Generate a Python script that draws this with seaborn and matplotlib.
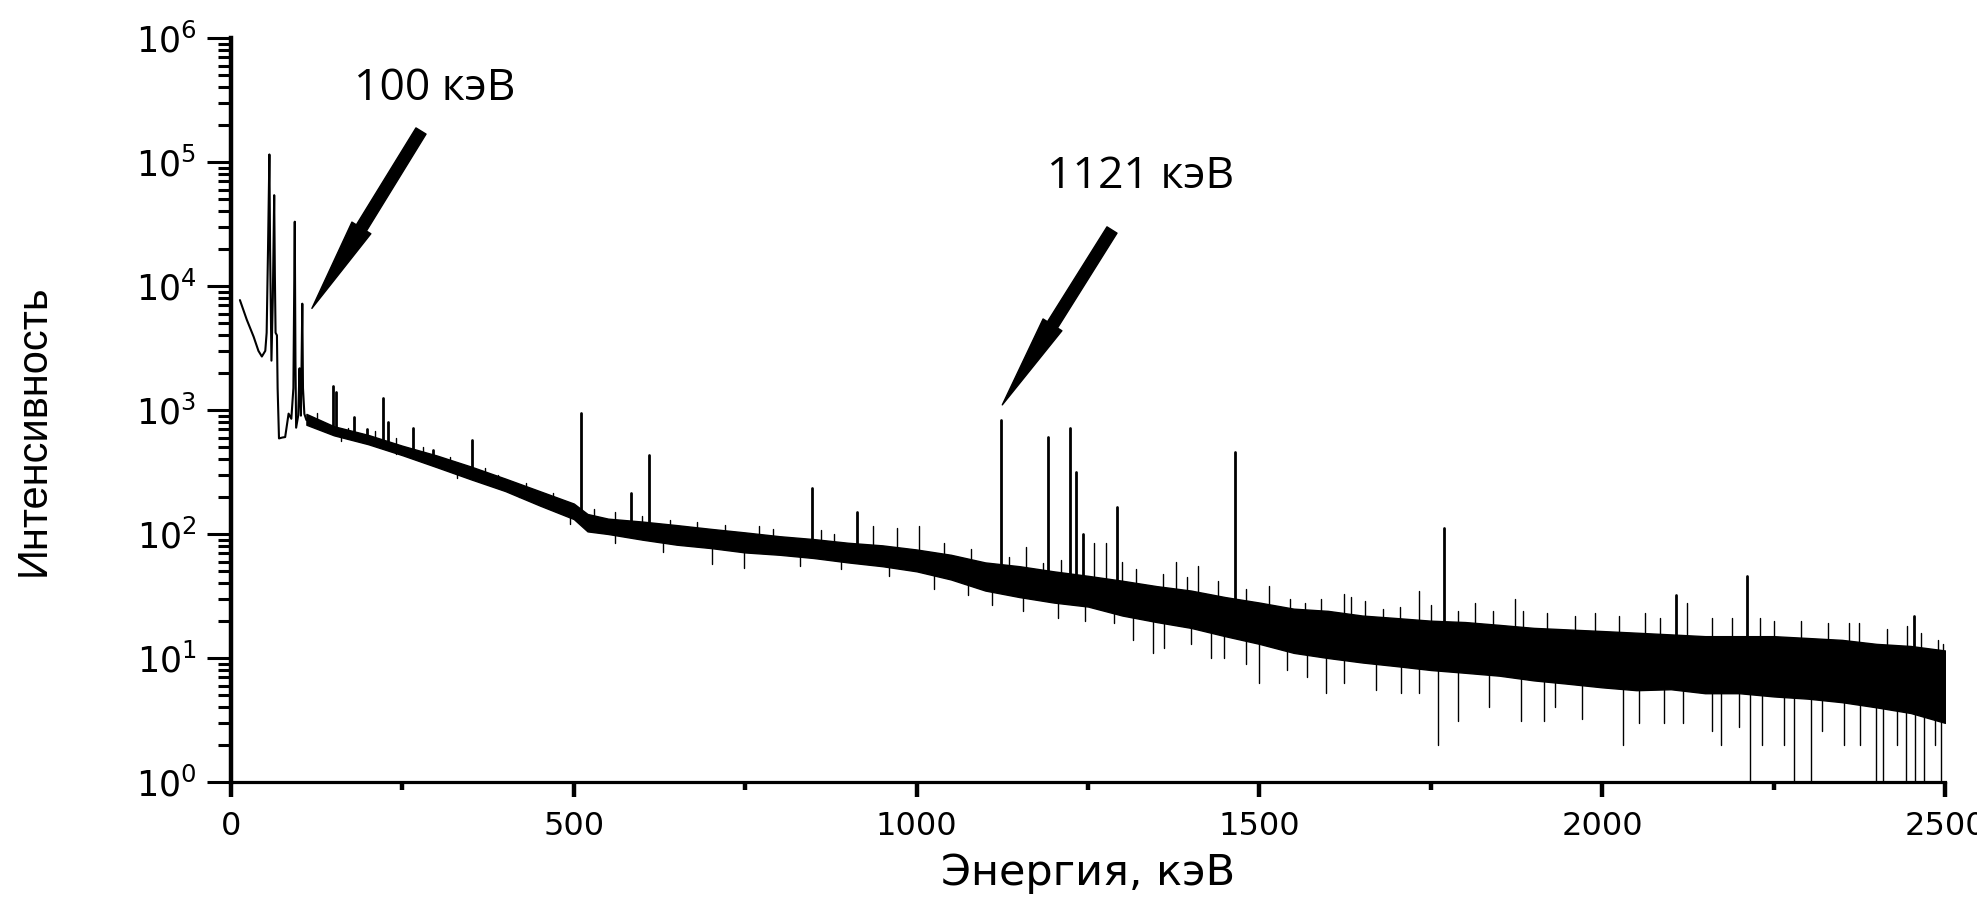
import numpy as np
import pandas as pd
import matplotlib
matplotlib.use("Agg")
import matplotlib.pyplot as plt
from matplotlib import font_manager
from matplotlib.ticker import LogLocator, MultipleLocator, NullFormatter
import seaborn as sns

# ---------------- data ----------------
# low-energy part of the spectrum (keV, counts)
low_energy = [13, 23, 33, 40, 45, 50, 52, 54, 56, 57, 59, 61, 63, 64, 65, 67, 68, 70,
              75, 79, 84, 88, 91, 93, 94, 95, 98, 100, 101, 102, 104, 105, 107, 110]
low_counts = [7700, 5350, 3900, 3000, 2700, 3000, 4200, 20000, 115000, 20000, 2500, 8000,
              54000, 12000, 4200, 4000, 1500, 590, 600, 605, 935, 850, 1500, 33000, 2500,
              720, 900, 2170, 1200, 900, 7200, 1500, 930, 830]

# dense noisy continuum: upper and lower edge of the black band
band_energy = [110, 150, 200, 250, 300, 350, 400, 450, 500, 520, 550, 600, 650, 700, 750,
               800, 850, 900, 950, 1000, 1050, 1100, 1150, 1200, 1250, 1300, 1350, 1400,
               1450, 1500, 1550, 1600, 1650, 1700, 1750, 1800, 1850, 1900, 1950, 2000,
               2050, 2100, 2150, 2200, 2250, 2300, 2350, 2400, 2450, 2500]
band_upper = [930, 740, 630, 515, 430, 350, 280, 222, 176, 145, 133, 126, 118, 110, 103,
              96, 91, 85, 81, 75, 68, 59, 55, 50, 46, 42, 38, 35,
              31, 28, 25, 24, 22, 21, 20, 19.5, 18.5, 17.5, 17, 16.5,
              16, 15.5, 15, 15, 15, 14.5, 14, 13, 12.5, 11.5]
band_lower = [760, 625, 530, 432, 346, 276, 222, 170, 132, 105, 100, 90, 82, 77, 71,
              68, 64, 59, 55, 50, 43, 35, 31, 28, 26, 22, 19.5, 17.5,
              15, 13, 11, 10, 9.2, 8.6, 8.0, 7.6, 7.2, 6.6, 6.2, 5.8,
              5.5, 5.6, 5.2, 5.2, 4.9, 4.7, 4.4, 4.0, 3.6, 3.0]

# gamma lines (peak tops)
peak_energy = [149, 153, 180, 198, 222, 229, 265, 295, 332, 352, 444, 511, 583, 610, 848,
               913, 1123, 1191, 1224, 1233, 1242, 1292, 1464, 1769, 2108, 2211, 2455]
peak_counts = [1550, 1400, 885, 700, 1240, 800, 710, 475, 350, 575, 186, 940, 214, 436, 234,
               151, 830, 610, 710, 318, 100, 166, 460, 111, 32, 46, 22]

# small upward noise spikes
spike_energy = [125, 170, 210, 240, 280, 320, 370, 390, 430, 470,
                530, 560, 600, 640, 680, 720, 770, 790, 860, 880, 936, 972, 1004,
                1040, 1080, 1135, 1159, 1185, 1210, 1259, 1276, 1300, 1320, 1360, 1379,
                1395, 1411, 1440, 1480, 1514, 1545, 1566, 1590, 1624, 1634, 1654, 1680,
                1705, 1733, 1750, 1790, 1814, 1840, 1873, 1885, 1920, 1960, 1990, 2025,
                2062, 2085, 2123, 2160, 2190, 2230, 2250, 2290, 2330, 2360, 2375, 2415,
                2445, 2465, 2490, 2497]
spike_counts = [950, 720, 680, 600, 500, 420, 340, 300, 260, 215,
                160, 150, 140, 130, 125, 118, 117, 110, 107, 100, 115, 111, 117,
                85, 75, 65, 79, 58, 62, 85, 85, 60, 52, 48, 60,
                45, 55, 42, 36, 38, 30, 28, 30, 33, 31, 29, 25,
                26, 35, 27, 24, 28, 24, 30, 24, 23, 22, 23, 22,
                23, 21, 28, 21, 21, 21, 20, 20, 19, 19, 19, 17,
                18, 16, 14, 13]

# downward noise dips
dip_energy = [160, 240, 330, 420, 495, 560, 630, 702, 748, 830, 890, 960, 1025, 1075,
              1110, 1155, 1206, 1245, 1288, 1315, 1345, 1361, 1400, 1430, 1449, 1480,
              1500, 1540, 1570, 1597, 1624, 1670, 1707, 1733, 1760, 1790, 1835, 1881,
              1915, 1931, 1970, 2030, 2053, 2090, 2118, 2160, 2174, 2200, 2216, 2233,
              2265, 2280, 2305, 2320, 2352, 2376, 2399, 2410, 2430, 2443, 2456, 2470,
              2485, 2494]
dip_counts = [560, 440, 285, 200, 120, 85, 72, 57, 53, 55, 52, 46, 36, 32,
              27, 24, 21, 20, 19, 14, 11, 12, 13, 10, 10, 9,
              6.3, 8, 7, 5.2, 6.3, 5.5, 5.2, 5.2, 2, 3.1, 4, 3.1,
              3.1, 4, 3.2, 2, 3, 3, 3, 2.6, 2, 2.8, 1, 2,
              2, 1, 1, 2.6, 2, 2, 1, 1, 2, 1, 1, 1,
              2, 1]

annot_labels = ["100 кэВ", "1121 кэВ"]
x_ticks = [0, 500, 1000, 1500, 2000, 2500]
x_label = "Энергия, кэВ"
y_label = "Интенсивность"

# ---------------- styling ----------------
sns.set_theme(style="ticks")
plt.rcParams["font.family"] = ["DejaVu Sans"]
plt.rcParams["mathtext.fontset"] = "dejavusans"
for k in ["axes.edgecolor", "xtick.color", "ytick.color", "text.color", "axes.labelcolor"]:
    plt.rcParams[k] = "black"

installed = {f.name for f in font_manager.fontManager.ttflist}

W, H = 1977, 900
fig = plt.figure(figsize=(W / 100, H / 100), dpi=100)
fig.patch.set_facecolor("white")
ax = fig.add_axes([231 / W, 118 / H, 1714 / W, 744 / H])
ax.set_facecolor("white")
ax.set_yscale("log")
ax.set_xlim(0, 2500)
ax.set_ylim(1, 1e6)

# continuum band
ax.fill_between(band_energy, band_upper, band_lower, color="black", lw=1.0, zorder=2)

# low-energy curve
sns.lineplot(x=low_energy, y=low_counts, color="black", lw=1.5, estimator=None,
             sort=False, ax=ax, zorder=3)


def segments(elist, clist):
    assert len(elist) == len(clist)
    rows = []
    for i, (e, c) in enumerate(zip(elist, clist)):
        base = np.sqrt(np.interp(e, band_energy, band_upper) *
                       np.interp(e, band_energy, band_lower))
        rows.append((i, e, base))
        rows.append((i, e, c))
    return pd.DataFrame(rows, columns=["seg", "E", "I"])


noise = pd.concat([segments(spike_energy, spike_counts).assign(kind="up"),
                   segments(dip_energy, dip_counts).assign(kind="dn")])
noise["seg"] = noise["kind"] + noise["seg"].astype(str)
sns.lineplot(data=noise, x="E", y="I", units="seg", estimator=None, sort=False,
             color="black", lw=1.0, ax=ax, legend=False, zorder=3)

peaks = segments(peak_energy, peak_counts)
sns.lineplot(data=peaks, x="E", y="I", units="seg", estimator=None, sort=False,
             color="black", lw=2.0, ax=ax, legend=False, zorder=4)

# axes
ax.spines["top"].set_visible(False)
ax.spines["right"].set_visible(False)
ax.spines["left"].set_linewidth(3.2)
ax.spines["bottom"].set_linewidth(2.3)
ax.xaxis.set_minor_locator(MultipleLocator(250))
ax.set_xticks(x_ticks)
ax.set_xticklabels([str(t) for t in x_ticks])
ax.yaxis.set_major_locator(LogLocator(base=10, numticks=10))
ax.yaxis.set_minor_locator(LogLocator(base=10, subs=np.arange(2, 10), numticks=20))
ax.yaxis.set_minor_formatter(NullFormatter())
ax.tick_params(axis="y", which="major", direction="out", length=17, width=2.2, pad=8,
               labelsize=25)
ax.tick_params(axis="y", which="minor", direction="out", length=9.5, width=2.2)
ax.tick_params(axis="x", which="major", direction="out", length=11, width=3.2, pad=10,
               labelsize=23)
ax.tick_params(axis="x", which="minor", direction="out", length=6, width=3.2)
ax.grid(False)

ax.set_xlabel(x_label, fontsize=31, va="center")
ax.xaxis.set_label_coords(0.5, (782 - 873) / 744)

if "Liberation Sans Narrow" in installed:
    yfam, ysize = ["Liberation Sans Narrow", "DejaVu Sans"], 36
elif "Liberation Sans" in installed:
    yfam, ysize = ["Liberation Sans", "DejaVu Sans"], 30
else:
    yfam, ysize = ["DejaVu Sans"], 27
ax.set_ylabel(y_label, fontsize=ysize, family=yfam, va="center", ha="center")
ax.yaxis.set_label_coords((34 - 231) / 1714, (782 - 430) / 744)

# annotations
afam = ["Open Sans", "DejaVu Sans"]
fig.text(435 / W, 1 - 100 / H, annot_labels[0], ha="center", va="baseline",
         fontsize=32, family=afam)
fig.text(1141 / W, 1 - 188 / H, annot_labels[1], ha="center", va="baseline",
         fontsize=32, family=afam)

arrow_kw = dict(width=8.5, headwidth=16, headlength=68, facecolor="black",
                edgecolor="black", shrink=0)
ax.annotate("", xy=(118, 6600), xycoords="data", xytext=(421, H - 131),
            textcoords="figure pixels", arrowprops=arrow_kw, zorder=5)
ax.annotate("", xy=(1125, 1100), xycoords="data", xytext=(1112, H - 230),
            textcoords="figure pixels", arrowprops=arrow_kw, zorder=5)

fig.savefig("out.png", dpi=100, facecolor="white")
